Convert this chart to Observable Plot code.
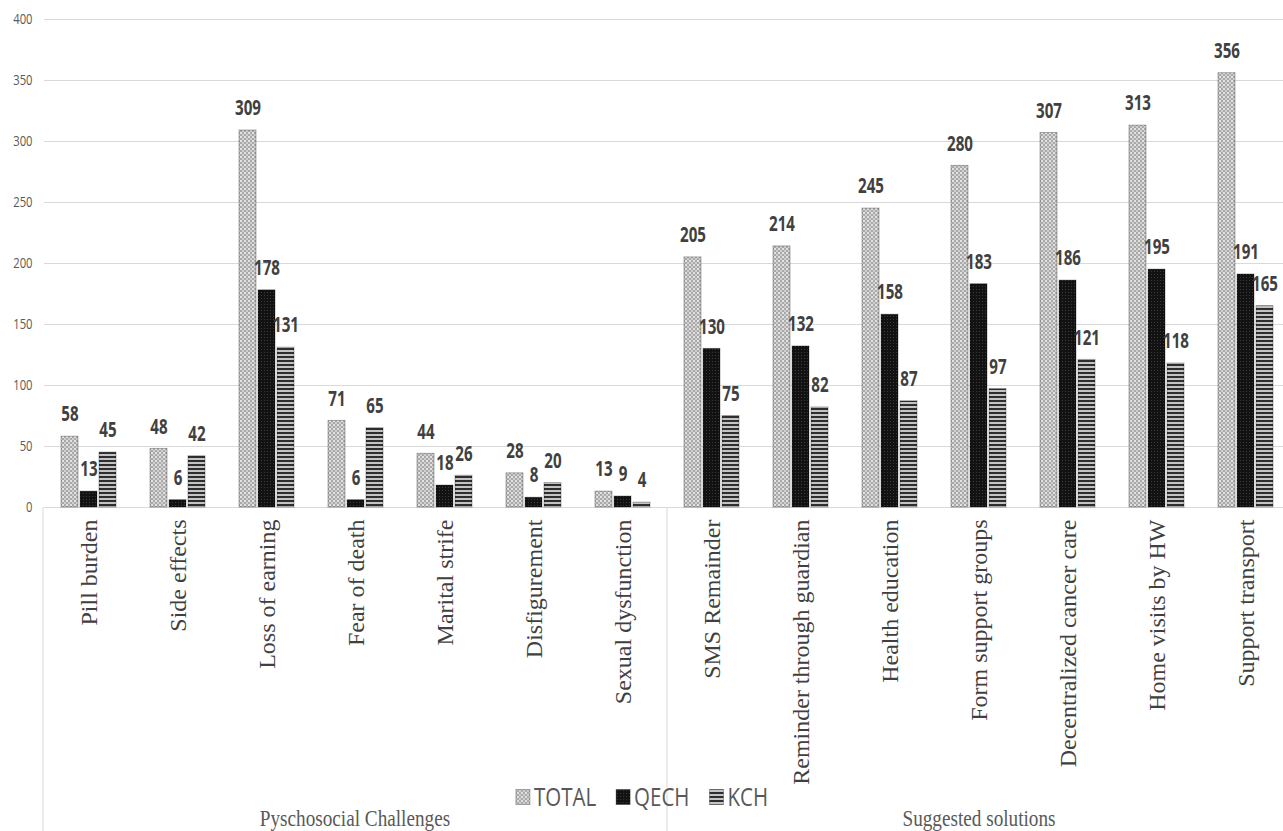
<!DOCTYPE html>
<html>
<head>
<meta charset="utf-8">
<script src="https://cdn.jsdelivr.net/npm/d3@7"></script>
<script src="https://cdn.jsdelivr.net/npm/@observablehq/plot@0.6"></script>
<style>
  html, body { margin: 0; padding: 0; background: #ffffff; }
  #chart { position: relative; width: 1283px; height: 831px; overflow: hidden; }
</style>
</head>
<body>
<div id="chart"></div>
<script>
// ---------------- data ----------------
const categories = [
  "Pill burden", "Side effects", "Loss of earning", "Fear of death", "Marital strife",
  "Disfigurement", "Sexual dysfunction", "SMS Remainder", "Reminder through guardian",
  "Health education", "Form support groups", "Decentralized cancer care",
  "Home visits by HW", "Support transport"
];
const groups = ["Pyschosocial Challenges", "Suggested solutions"];
const groupOfCategory = [0, 0, 0, 0, 0, 0, 0, 1, 1, 1, 1, 1, 1, 1];
const series = ["TOTAL", "QECH", "KCH"];
const totalValues = [58, 48, 309, 71, 44, 28, 13, 205, 214, 245, 280, 307, 313, 356];
const qechValues  = [13, 6, 178, 6, 18, 8, 9, 130, 132, 158, 183, 186, 195, 191];
const kchValues   = [45, 42, 131, 65, 26, 20, 4, 75, 82, 87, 97, 121, 118, 165];
const yTicks = [0, 50, 100, 150, 200, 250, 300, 350, 400];

const valuesBySeries = { TOTAL: totalValues, QECH: qechValues, KCH: kchValues };
const rows = [];
categories.forEach((c, i) => {
  series.forEach(s => rows.push({ category: c, series: s, value: valuesBySeries[s][i] }));
});

// ---------------- layout ----------------
const W = 1283, H = 831;
const FX_RANGE = [43, 1291];
const SANS = "'Open Sans', 'Noto Sans', sans-serif";
const SERIF = "'Liberation Serif', 'Times New Roman', serif";
const patternIds = ["pTotal", "pQech", "pKch"];

const chart = Plot.plot({
  width: W,
  height: H,
  marginLeft: 43,
  marginRight: 0,
  marginTop: 19,
  marginBottom: 324,
  style: { background: "transparent", fontFamily: SANS, fontSize: "15px", color: "#595959", overflow: "visible" },
  facet: { data: rows, x: "category" },
  fx: { domain: categories, range: FX_RANGE, padding: 0, label: null, tickSize: 0, tickPadding: 12, tickRotate: -90, axis: "bottom" },
  x: { domain: series, paddingInner: 0.13, paddingOuter: 0.85, axis: null },
  y: { domain: [0, 400], ticks: yTicks, tickSize: 0, tickPadding: 12, label: null, tickFormat: d => String(d) },
  color: { domain: series, range: patternIds.map(id => `url(#${id})`) },
  marks: [
    Plot.ruleY(yTicks, { stroke: "#d9d9d9", strokeWidth: 1 }),
    Plot.barY(rows, { x: "series", y: "value", fill: "series", stroke: "rgba(0,0,0,0.3)", strokeWidth: 1 }),
    Plot.text(rows, {
      x: "series", y: "value", text: d => String(d.value), dy: -22,
      fill: "#404040", fontWeight: "bold", fontSize: 21, fontFamily: SANS
    })
  ]
});

const container = document.getElementById("chart");
container.append(chart);
const svgEl = chart.tagName.toLowerCase() === "svg" ? chart : chart.querySelector("svg");
const svg = d3.select(svgEl);

// ---------------- patterns ----------------
const defs = svg.insert("defs", ":first-child");
const pT = defs.append("pattern").attr("id", "pTotal").attr("patternUnits", "userSpaceOnUse").attr("width", 4).attr("height", 4);
pT.append("rect").attr("width", 4).attr("height", 4).attr("fill", "#a9a9a9");
pT.append("rect").attr("x", 1).attr("y", 0).attr("width", 2).attr("height", 2).attr("fill", "#e2e2e2");
pT.append("rect").attr("x", 0).attr("y", 2).attr("width", 1).attr("height", 2).attr("fill", "#d0d0d0");
pT.append("rect").attr("x", 3).attr("y", 2).attr("width", 1).attr("height", 2).attr("fill", "#d0d0d0");
const pQ = defs.append("pattern").attr("id", "pQech").attr("patternUnits", "userSpaceOnUse").attr("width", 3).attr("height", 3);
pQ.append("rect").attr("width", 3).attr("height", 3).attr("fill", "#121212");
pQ.append("rect").attr("x", 1).attr("y", 1).attr("width", 1).attr("height", 1).attr("fill", "#3a3a3a");
const pK = defs.append("pattern").attr("id", "pKch").attr("patternUnits", "userSpaceOnUse").attr("width", 4).attr("height", 4);
pK.append("rect").attr("width", 4).attr("height", 4).attr("fill", "#c4c4c4");
pK.append("rect").attr("y", 0).attr("width", 4).attr("height", 2).attr("fill", "#2e2e2e");

// ---------------- text styling ----------------
function squeeze(node, f) {
  const L = node.getComputedTextLength();
  if (L > 0) {
    node.setAttribute("textLength", (L * f).toFixed(2));
    node.setAttribute("lengthAdjust", "spacingAndGlyphs");
  }
}
svg.selectAll('[aria-label^="y-axis"] text').each(function () {
  this.style.fontFamily = SANS;
  this.style.fontSize = "15px";
  this.style.fill = "#595959";
  squeeze(this, 0.75);
});
svg.selectAll('[aria-label^="fx-axis"] text').each(function () {
  this.style.fontFamily = SERIF;
  this.style.fontSize = "24px";
  this.style.fill = "#404040";
});
svg.selectAll('g[aria-label="text"] text').each(function () {
  squeeze(this, 0.72);
});

// ---------------- group separators & labels ----------------
let fxDomain = categories, fxRange = FX_RANGE;
try {
  const d = chart.scale("fx");
  if (d && d.domain && d.range) { fxDomain = d.domain; fxRange = d.range; }
} catch (e) {}
const band = d3.scaleBand().domain(fxDomain).range(fxRange).padding(0);
const baseY = H - 324;
const deco = svg.append("g").attr("aria-label", "groups");
groups.forEach((g, gi) => {
  const idx = categories.map((c, i) => i).filter(i => groupOfCategory[i] === gi);
  const x0 = band(categories[idx[0]]);
  const x1 = band(categories[idx[idx.length - 1]]) + band.bandwidth();
  deco.append("line").attr("x1", x0).attr("x2", x0).attr("y1", baseY).attr("y2", H)
    .attr("stroke", "#d9d9d9").attr("stroke-width", 1);
  if (gi === groups.length - 1) {
    deco.append("line").attr("x1", x1).attr("x2", x1).attr("y1", baseY).attr("y2", H)
      .attr("stroke", "#d9d9d9").attr("stroke-width", 1);
  }
  const t = deco.append("text").attr("x", (x0 + x1) / 2).attr("y", 826)
    .attr("text-anchor", "middle").style("font-family", SERIF).style("font-size", "24px")
    .style("fill", "#595959").text(g);
  squeeze(t.node(), 0.8);
});

// ---------------- legend ----------------
const legend = svg.append("g").attr("aria-label", "legend").attr("text-anchor", "start");
const swW = 14, swH = 15, swGap = 4, itemGap = 20, legendCenter = 642, legendY = 797;
let cursor = 0;
series.forEach((s, i) => {
  const g = legend.append("g");
  g.append("rect").attr("x", 0).attr("y", legendY - swH / 2).attr("width", swW).attr("height", swH)
    .attr("fill", `url(#${patternIds[i]})`).attr("stroke", "rgba(0,0,0,0.3)");
  const t = g.append("text").attr("x", swW + swGap).attr("y", legendY).attr("dy", "0.35em")
    .attr("text-anchor", "start")
    .style("font-family", SANS).style("font-size", "25px").style("fill", "#595959").text(s);
  squeeze(t.node(), 0.82);
  const tw = +t.attr("textLength") || t.node().getComputedTextLength();
  g.attr("transform", `translate(${cursor},0)`);
  cursor += swW + swGap + tw + itemGap;
});
const legendWidth = cursor - itemGap;
legend.attr("transform", `translate(${legendCenter - legendWidth / 2},0)`);
</script>
</body>
</html>
